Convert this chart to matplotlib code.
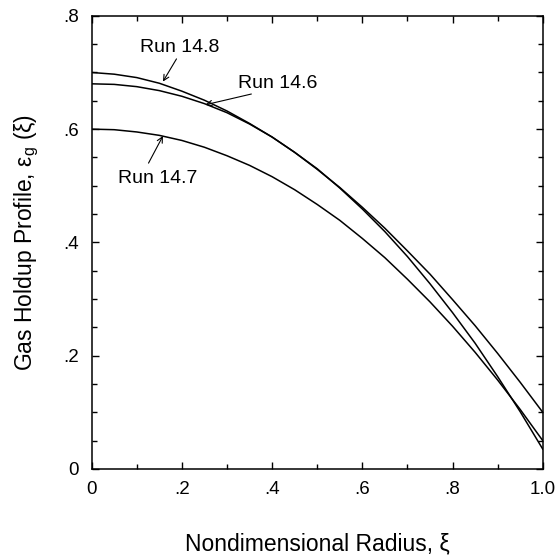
import matplotlib
matplotlib.use("Agg")
import matplotlib.pyplot as plt
from matplotlib.ticker import MultipleLocator, FixedLocator

plt.rcParams['font.family'] = ['Liberation Sans', 'DejaVu Sans']
plt.rcParams['mathtext.fontset'] = 'custom'
plt.rcParams['mathtext.rm'] = 'Liberation Sans'
plt.rcParams['mathtext.it'] = 'Liberation Sans:italic'

# radial position, read every 0.05
xi = [0.00, 0.05, 0.10, 0.15, 0.20, 0.25, 0.30, 0.35, 0.40, 0.45, 0.50,
      0.55, 0.60, 0.65, 0.70, 0.75, 0.80, 0.85, 0.90, 0.95, 1.00]

# gas holdup profiles
run_14_8 = [0.700, 0.697, 0.691, 0.681, 0.667, 0.651, 0.632, 0.610, 0.586, 0.559, 0.529,
            0.497, 0.462, 0.425, 0.385, 0.344, 0.299, 0.253, 0.204, 0.153, 0.100]
run_14_6 = [0.680, 0.679, 0.675, 0.668, 0.658, 0.645, 0.629, 0.609, 0.586, 0.559, 0.530,
            0.496, 0.459, 0.419, 0.375, 0.327, 0.276, 0.222, 0.163, 0.101, 0.035]
run_14_7 = [0.600, 0.599, 0.595, 0.589, 0.580, 0.568, 0.553, 0.536, 0.516, 0.493, 0.467,
            0.439, 0.407, 0.373, 0.335, 0.295, 0.252, 0.206, 0.157, 0.105, 0.050]

x_ticks = [0, 0.2, 0.4, 0.6, 0.8, 1.0]
x_ticklabels = ['0', '.2', '.4', '.6', '.8', '1.0']
y_ticks = [0, 0.2, 0.4, 0.6, 0.8]
y_ticklabels = ['0', '.2', '.4', '.6', '.8']

fig = plt.figure(figsize=(5.59, 5.56), dpi=100)
ax = fig.add_axes([0.164, 0.1565, 0.807, 0.815])

for ys in (run_14_8, run_14_6, run_14_7):
    ax.plot(xi, ys, color='black', lw=1.1)

ax.set_xlim(0, 1.0)
ax.set_ylim(0, 0.8)
ax.xaxis.set_major_locator(FixedLocator(x_ticks))
ax.set_xticklabels(x_ticklabels)
ax.yaxis.set_major_locator(FixedLocator(y_ticks))
ax.set_yticklabels(y_ticklabels)
ax.xaxis.set_minor_locator(MultipleLocator(0.1))
ax.yaxis.set_minor_locator(MultipleLocator(0.05))
ax.tick_params(which='both', direction='in', top=True, right=True,
               labelsize=13.5, width=1.0, pad=9)
ax.tick_params(which='major', length=5)
ax.tick_params(which='minor', length=3.5)
for s in ax.spines.values():
    s.set_linewidth(1.1)

ax.set_xlabel('Nondimensional Radius, ξ', fontsize=16.5, labelpad=24)
ax.set_ylabel(r'Gas Holdup Profile, ε$_{\mathregular{g}}$ (ξ)', fontsize=16.5, labelpad=16)

arrow = dict(arrowstyle='->', color='black', lw=0.8, shrinkA=0, shrinkB=0)
label_kw = dict(fontsize=14, ha='center', va='center')
ax.text(0.195, 0.744, 'Run 14.8', **label_kw)
ax.annotate('', xy=(0.158, 0.684), xytext=(0.188, 0.724), arrowprops=arrow)
ax.text(0.412, 0.680, 'Run 14.6', **label_kw)
ax.annotate('', xy=(0.252, 0.643), xytext=(0.354, 0.662), arrowprops=arrow)
ax.text(0.146, 0.513, 'Run 14.7', **label_kw)
ax.annotate('', xy=(0.158, 0.588), xytext=(0.126, 0.540), arrowprops=arrow)

fig.savefig('out.png', dpi=100)
